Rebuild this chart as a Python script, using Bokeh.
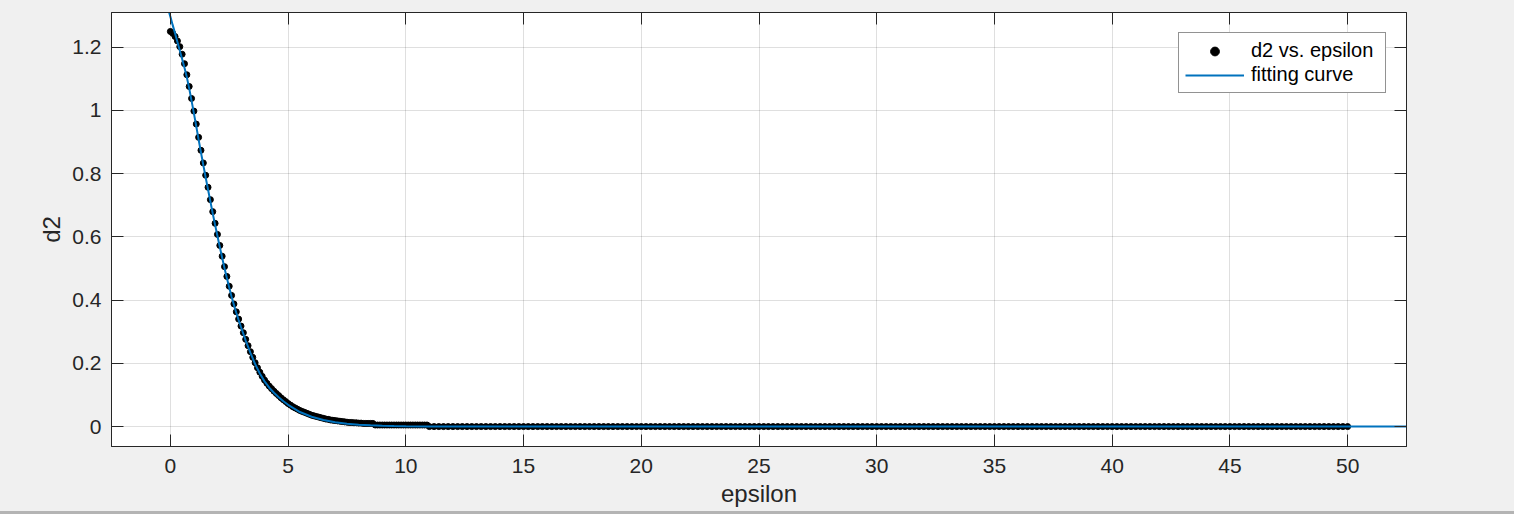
from bokeh.plotting import figure
from bokeh.models import LinearAxis, FixedTicker, Range1d, ColumnDataSource
from bokeh.embed import file_html
from bokeh.resources import INLINE

# ---------------- data ----------------
eps_main = [
    0.0, 0.1, 0.2, 0.3, 0.4, 0.5, 0.6, 0.7, 0.8, 0.9,
    1.0, 1.1, 1.2, 1.3, 1.4, 1.5, 1.6, 1.7, 1.8, 1.9,
    2.0, 2.1, 2.2, 2.3, 2.4, 2.5, 2.6, 2.7, 2.8, 2.9,
    3.0, 3.1, 3.2, 3.3, 3.4, 3.5, 3.6, 3.7, 3.8, 3.9,
    4.0, 4.1, 4.2, 4.3, 4.4, 4.5, 4.6, 4.7, 4.8, 4.9,
    5.0, 5.1, 5.2, 5.3, 5.4, 5.5, 5.6, 5.7, 5.8, 5.9,
    6.0, 6.1, 6.2, 6.3, 6.4, 6.5, 6.6, 6.7, 6.8, 6.9,
    7.0, 7.1, 7.2, 7.3, 7.4, 7.5, 7.6, 7.7, 7.8, 7.9,
    8.0, 8.1, 8.2, 8.3, 8.4, 8.5, 8.6, 8.7, 8.8, 8.9,
    9.0, 9.1, 9.2, 9.3, 9.4, 9.5, 9.6, 9.7, 9.8, 9.9,
    10.0, 10.1, 10.2, 10.3, 10.4, 10.5, 10.6, 10.7, 10.8, 10.9,
]
d2_main = [
    1.250, 1.244, 1.234, 1.220, 1.202, 1.178, 1.148, 1.113, 1.076, 1.038,
    0.998, 0.957, 0.915, 0.874, 0.834, 0.795, 0.757, 0.718, 0.680, 0.643,
    0.608, 0.573, 0.539, 0.506, 0.475, 0.444, 0.415, 0.388, 0.363, 0.340,
    0.318, 0.297, 0.276, 0.256, 0.237, 0.219, 0.202, 0.186, 0.172, 0.159,
    0.147, 0.137, 0.128, 0.120, 0.112, 0.105, 0.098, 0.091, 0.085, 0.079,
    0.073, 0.068, 0.063, 0.059, 0.055, 0.051, 0.048, 0.045, 0.042, 0.039,
    0.036, 0.034, 0.032, 0.030, 0.028, 0.026, 0.024, 0.023, 0.021, 0.020,
    0.019, 0.018, 0.017, 0.016, 0.015, 0.014, 0.013, 0.013, 0.012, 0.012,
    0.011, 0.011, 0.010, 0.010, 0.010, 0.010, 0.010, 0.005, 0.005, 0.005,
    0.005, 0.005, 0.005, 0.005, 0.005, 0.005, 0.005, 0.005, 0.005, 0.005,
    0.005, 0.005, 0.005, 0.005, 0.005, 0.005, 0.005, 0.005, 0.005, 0.005,
]
eps_tail = [
    11.0, 11.2, 11.4, 11.6, 11.8, 12.0, 12.2, 12.4, 12.6, 12.8,
    13.0, 13.2, 13.4, 13.6, 13.8, 14.0, 14.2, 14.4, 14.6, 14.8,
    15.0, 15.2, 15.4, 15.6, 15.8, 16.0, 16.2, 16.4, 16.6, 16.8,
    17.0, 17.2, 17.4, 17.6, 17.8, 18.0, 18.2, 18.4, 18.6, 18.8,
    19.0, 19.2, 19.4, 19.6, 19.8, 20.0, 20.2, 20.4, 20.6, 20.8,
    21.0, 21.2, 21.4, 21.6, 21.8, 22.0, 22.2, 22.4, 22.6, 22.8,
    23.0, 23.2, 23.4, 23.6, 23.8, 24.0, 24.2, 24.4, 24.6, 24.8,
    25.0, 25.2, 25.4, 25.6, 25.8, 26.0, 26.2, 26.4, 26.6, 26.8,
    27.0, 27.2, 27.4, 27.6, 27.8, 28.0, 28.2, 28.4, 28.6, 28.8,
    29.0, 29.2, 29.4, 29.6, 29.8, 30.0, 30.2, 30.4, 30.6, 30.8,
    31.0, 31.2, 31.4, 31.6, 31.8, 32.0, 32.2, 32.4, 32.6, 32.8,
    33.0, 33.2, 33.4, 33.6, 33.8, 34.0, 34.2, 34.4, 34.6, 34.8,
    35.0, 35.2, 35.4, 35.6, 35.8, 36.0, 36.2, 36.4, 36.6, 36.8,
    37.0, 37.2, 37.4, 37.6, 37.8, 38.0, 38.2, 38.4, 38.6, 38.8,
    39.0, 39.2, 39.4, 39.6, 39.8, 40.0, 40.2, 40.4, 40.6, 40.8,
    41.0, 41.2, 41.4, 41.6, 41.8, 42.0, 42.2, 42.4, 42.6, 42.8,
    43.0, 43.2, 43.4, 43.6, 43.8, 44.0, 44.2, 44.4, 44.6, 44.8,
    45.0, 45.2, 45.4, 45.6, 45.8, 46.0, 46.2, 46.4, 46.6, 46.8,
    47.0, 47.2, 47.4, 47.6, 47.8, 48.0, 48.2, 48.4, 48.6, 48.8,
    49.0, 49.2, 49.4, 49.6, 49.8, 50.0,
]
d2_tail = [
    0, 0, 0, 0, 0, 0, 0, 0, 0, 0, 0, 0, 0, 0, 0, 0, 0, 0, 0, 0,
    0, 0, 0, 0, 0, 0, 0, 0, 0, 0, 0, 0, 0, 0, 0, 0, 0, 0, 0, 0,
    0, 0, 0, 0, 0, 0, 0, 0, 0, 0, 0, 0, 0, 0, 0, 0, 0, 0, 0, 0,
    0, 0, 0, 0, 0, 0, 0, 0, 0, 0, 0, 0, 0, 0, 0, 0, 0, 0, 0, 0,
    0, 0, 0, 0, 0, 0, 0, 0, 0, 0, 0, 0, 0, 0, 0, 0, 0, 0, 0, 0,
    0, 0, 0, 0, 0, 0, 0, 0, 0, 0, 0, 0, 0, 0, 0, 0, 0, 0, 0, 0,
    0, 0, 0, 0, 0, 0, 0, 0, 0, 0, 0, 0, 0, 0, 0, 0, 0, 0, 0, 0,
    0, 0, 0, 0, 0, 0, 0, 0, 0, 0, 0, 0, 0, 0, 0, 0, 0, 0, 0, 0,
    0, 0, 0, 0, 0, 0, 0, 0, 0, 0, 0, 0, 0, 0, 0, 0, 0, 0, 0, 0,
    0, 0, 0, 0, 0, 0, 0, 0, 0, 0, 0, 0, 0, 0, 0, 0,
]

fit_x = [
    -0.2, -0.1, 0.0, 0.1, 0.2, 0.3, 0.4, 0.5, 0.6, 0.7, 0.8, 0.9,
    1.0, 1.1, 1.2, 1.3, 1.4, 1.5, 1.6, 1.7, 1.8, 1.9,
    2.0, 2.1, 2.2, 2.3, 2.4, 2.5, 2.6, 2.7, 2.8, 2.9,
    3.0, 3.2, 3.4, 3.6, 3.8, 4.0, 4.2, 4.4, 4.6, 4.8,
    5.0, 5.5, 6.0, 6.5, 7.0, 7.5, 8.0, 8.5, 9.0, 9.5,
    10.0, 11.0, 12.0, 15.0, 20.0, 30.0, 40.0, 52.5,
]
fit_y = [
    1.350, 1.323, 1.297, 1.270, 1.244, 1.217, 1.190, 1.163, 1.135, 1.105, 1.070, 1.031,
    0.991, 0.950, 0.908, 0.867, 0.827, 0.788, 0.750, 0.712, 0.674, 0.638,
    0.603, 0.568, 0.534, 0.501, 0.470, 0.440, 0.411, 0.385, 0.360, 0.337,
    0.315, 0.272, 0.233, 0.198, 0.168, 0.143, 0.123, 0.107, 0.093, 0.080,
    0.069, 0.046, 0.031, 0.021, 0.014, 0.009, 0.006, 0.004, 0.0025, 0.0015,
    0.001, 0.0004, 0.0001, 0.0, 0.0, 0.0, 0.0, 0.0,
]

x_ticks = [0, 5, 10, 15, 20, 25, 30, 35, 40, 45, 50]
y_ticks = [0, 0.2, 0.4, 0.6, 0.8, 1, 1.2]
y_tick_labels = ["0", "0.2", "0.4", "0.6", "0.8", "1", "1.2"]

# ---------------- figure ----------------
FONT = "Liberation Sans"
AX = "#262626"
BG = "#f0f0f0"

p = figure(
    width=1514, height=511,
    x_range=Range1d(-2.5, 52.5), y_range=Range1d(-0.063, 1.31),
    output_backend="svg", toolbar_location=None,
    min_border_left=111, min_border_right=108,
    min_border_top=12, min_border_bottom=65,
    background_fill_color="white", border_fill_color=BG,
)
p.outline_line_color = AX
p.outline_line_width = 1

src_pts = ColumnDataSource(dict(x=eps_main + eps_tail, y=d2_main + d2_tail))
p.scatter("x", "y", source=src_pts, size=6, color="black",
          legend_label="d2 vs. epsilon")
p.line(fit_x, fit_y, line_color="#0072bd", line_width=2,
       legend_label="fitting curve")

# axes styling
for ax in (p.xaxis[0], p.yaxis[0]):
    ax.axis_line_color = AX
    ax.major_tick_line_color = AX
    ax.major_tick_in = 12
    ax.major_tick_out = 0
    ax.minor_tick_line_color = None
    ax.major_label_text_font = FONT
    ax.major_label_text_font_size = "21px"
    ax.major_label_text_color = AX
    ax.axis_label_text_font = FONT
    ax.axis_label_text_font_size = "24px"
    ax.axis_label_text_font_style = "normal"
    ax.axis_label_text_color = AX

p.xaxis.ticker = FixedTicker(ticks=x_ticks)
p.yaxis.ticker = FixedTicker(ticks=y_ticks)
p.yaxis.major_label_overrides = dict(zip(y_ticks, y_tick_labels))
p.xaxis.axis_label = "epsilon"
p.yaxis.axis_label = "d2"
p.xaxis.major_label_standoff = 12
p.yaxis.major_label_standoff = 10
p.xaxis.axis_label_standoff = 4
p.yaxis.axis_label_standoff = 4

# box-style tick marks on the top and right sides (no labels there)
top_ax = LinearAxis(ticker=FixedTicker(ticks=x_ticks), major_label_text_font_size="1px",
                    major_label_text_color=None,
                    major_tick_in=12, major_tick_out=0, major_label_standoff=0,
                    minor_tick_line_color=None, axis_line_color=AX,
                    major_tick_line_color=AX)
right_ax = LinearAxis(ticker=FixedTicker(ticks=y_ticks), major_label_text_font_size="1px",
                      major_label_text_color=None,
                      major_tick_in=12, major_tick_out=0, major_label_standoff=0,
                      minor_tick_line_color=None, axis_line_color=AX,
                      major_tick_line_color=AX)
p.add_layout(top_ax, "above")
p.add_layout(right_ax, "right")

p.grid.grid_line_color = AX
p.grid.grid_line_alpha = 0.15
p.grid.grid_line_width = 1

lg = p.legend[0]
lg.location = "top_right"
lg.margin = 20
lg.padding = 6
lg.spacing = 1
lg.glyph_width = 59
lg.glyph_height = 22
lg.label_height = 22
lg.label_width = 128
lg.label_standoff = 7
lg.label_text_font = FONT
lg.label_text_font_size = "20px"
lg.label_text_color = "black"
lg.border_line_color = AX
lg.border_line_width = 1
lg.background_fill_color = "white"
lg.background_fill_alpha = 1.0

html = file_html(p, INLINE, title="d2 vs epsilon")
style = ("<style>html,body{background:#f0f0f0;}"
         "body::after{content:'';position:fixed;left:0;right:0;bottom:0;height:3px;background:#b4b4b4;}"
         "</style>")
html = html.replace("</head>", style + "</head>", 1)
open("out.html", "w").write(html)
